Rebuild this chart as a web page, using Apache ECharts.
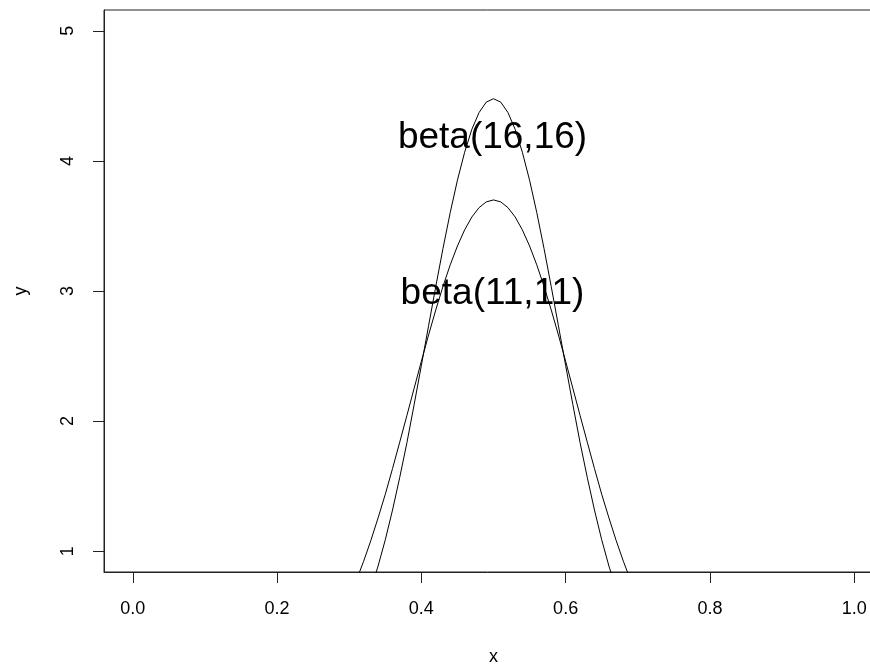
<!DOCTYPE html>
<html>
<head>
<meta charset="utf-8">
<script src="https://cdn.jsdelivr.net/npm/echarts@6/dist/echarts.min.js"></script>
<style>
  html, body { margin: 0; padding: 0; background: #fff; }
  #chart { width: 870px; height: 666px; }
</style>
</head>
<body>
<div id="chart"></div>
<script>
// x positions of the curve points (visible part of the curves)
const xValues = [
  0.30, 0.31, 0.32, 0.33, 0.34, 0.35, 0.36, 0.37, 0.38, 0.39,
  0.40, 0.41, 0.42, 0.43, 0.44, 0.45, 0.46, 0.47, 0.48, 0.49,
  0.50,
  0.51, 0.52, 0.53, 0.54, 0.55, 0.56, 0.57, 0.58, 0.59, 0.60,
  0.61, 0.62, 0.63, 0.64, 0.65, 0.66, 0.67, 0.68, 0.69, 0.70
]

// beta(11,11) density
const beta11 = [
  0.647, 0.778, 0.923, 1.083, 1.256, 1.438, 1.635, 1.838, 2.044, 2.253,
  2.460, 2.662, 2.855, 3.036, 3.201, 3.346, 3.470, 3.569, 3.641, 3.685,
  3.700,
  3.685, 3.641, 3.569, 3.470, 3.346, 3.201, 3.036, 2.855, 2.662, 2.460,
  2.253, 2.044, 1.838, 1.635, 1.438, 1.256, 1.083, 0.923, 0.778, 0.647
]

// beta(16,16) density
const beta16 = [
  0.328, 0.432, 0.558, 0.709, 0.886, 1.088, 1.316, 1.567, 1.835, 2.128,
  2.428, 2.733, 3.035, 3.328, 3.603, 3.852, 4.067, 4.243, 4.372, 4.452,
  4.478,
  4.452, 4.372, 4.243, 4.067, 3.852, 3.603, 3.328, 3.035, 2.733, 2.428,
  2.128, 1.835, 1.567, 1.316, 1.088, 0.886, 0.709, 0.558, 0.432, 0.328
]

// text labels inside the plot
const labelNames = ['beta(16,16)', 'beta(11,11)']
const labelX = [0.5, 0.5]
const labelY = [4.2, 3.0]

// axis ticks
const xTicks = [0, 0.2, 0.4, 0.6, 0.8, 1.0]
const xTickLabels = ['0.0', '0.2', '0.4', '0.6', '0.8', '1.0']
const yTicks = [1, 2, 3, 4, 5]

const font = "'Liberation Sans', Arial, sans-serif"

const toPairs = (ys) => xValues.map((x, i) => [x, ys[i]])

const lineSeries = (name, ys) => ({
  name: name,
  type: 'line',
  data: toPairs(ys),
  showSymbol: false,
  symbol: 'none',
  clip: true,
  lineStyle: { color: '#000', width: 1 },
  silent: true
})

const options = {
  animation: false,
  backgroundColor: '#fff',
  grid: {
    left: 104,
    right: -13,
    top: 10,
    bottom: 94,
    show: true,
    borderColor: '#222',
    borderWidth: 1,
    backgroundColor: 'transparent',
    outerBoundsMode: 'none'
  },
  xAxis: {
    type: 'value',
    min: -0.04,
    max: 1.04,
    name: 'x',
    nameLocation: 'middle',
    nameGap: 76,
    nameTextStyle: { fontSize: 18, color: '#000', fontFamily: font },
    splitLine: { show: false },
    axisLine: { show: true, onZero: false, lineStyle: { color: '#222', width: 1 } },
    axisTick: {
      show: true,
      inside: false,
      length: 11,
      customValues: xTicks,
      lineStyle: { color: '#222', width: 1 }
    },
    axisLabel: {
      customValues: xTicks,
      margin: 28,
      fontSize: 18,
      color: '#000',
      fontFamily: font,
      formatter: (v) => xTickLabels[xTicks.findIndex(t => Math.abs(t - v) < 1e-9)]
    }
  },
  yAxis: {
    type: 'value',
    min: 0.84,
    max: 5.16,
    name: 'y',
    nameLocation: 'middle',
    nameGap: 74,
    nameTextStyle: { fontSize: 18, color: '#000', fontFamily: font },
    splitLine: { show: false },
    axisLine: { show: true, onZero: false, lineStyle: { color: '#222', width: 1 } },
    axisTick: {
      show: true,
      inside: false,
      length: 11,
      customValues: yTicks,
      lineStyle: { color: '#222', width: 1 }
    },
    axisLabel: {
      customValues: yTicks,
      rotate: 90,
      margin: 27,
      fontSize: 18,
      color: '#000',
      fontFamily: font
    }
  },
  series: [
    lineSeries('beta(11,11)', beta11),
    lineSeries('beta(16,16)', beta16),
    {
      type: 'scatter',
      symbolSize: 0,
      silent: true,
      itemStyle: { opacity: 1 },
      data: labelNames.map((n, i) => ({ name: n, value: [labelX[i], labelY[i]] })),
      label: {
        show: true,
        position: 'inside',
        formatter: (p) => p.name,
        fontSize: 37,
        color: '#000',
        opacity: 1,
        fontFamily: font,
        align: 'center',
        verticalAlign: 'middle',
        offset: [-1, 3]
      }
    }
  ]
}

const chart = echarts.init(document.getElementById('chart'))
chart.setOption(options)
</script>
</body>
</html>
